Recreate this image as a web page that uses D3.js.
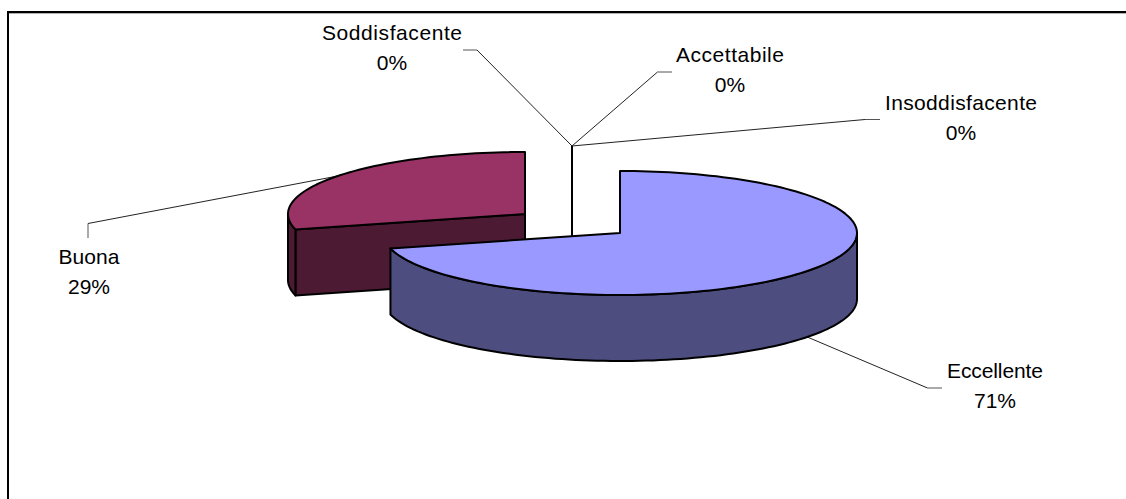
<!DOCTYPE html>
<html>
<head>
<meta charset="utf-8">
<script src="https://cdn.jsdelivr.net/npm/d3@7/dist/d3.min.js"></script>
<style>
html,body{margin:0;padding:0;background:#fff;overflow:hidden}
svg{display:block}
text{font-family:"Liberation Sans",Arial,sans-serif;font-size:21px;fill:#000;text-anchor:middle}
</style>
</head>
<body>
<svg id="chart" width="1126" height="499"></svg>
<script>
// Data
const categories = ["Eccellente", "Buona", "Soddisfacente", "Accettabile", "Insoddisfacente"];
const values = [71, 29, 0, 0, 0];

// Colours (not data)
const topColors = ["#9999FF", "#993366", "#FFFFCC", "#CCFFFF", "#660066"];
const sideColors = ["#4D4D80", "#4D1A33", "#808066", "#668080", "#330033"];

// Layout
const W = 1126, H = 499;
const rx = 237, ry = 62, depth = 66;
const centers = [[620, 233], [525, 214], [572, 208], [572, 208], [572, 208]];
const elbows = [[927.5, 388], [88, 223.5], [477, 50], [657.5, 72], [865, 119.5]];
const stubEnds = [[942, 388], [88, 238], [463, 50], [672, 72], [880, 119.5]];
const labelCentres = [[995, 378], [89, 264], [392, 40], [730, 62], [961, 110]];
const labelWidths = [96, 61, 140, 108, 152];
const lineGap = 30;

const svg = d3.select("#chart");
const total = d3.sum(values);
const arcs = d3.pie().sort(null).value(d => d)(values);
const pct = d3.format(".0%");

const pt = (i, a, dz = 0) => {
  const [cx, cy] = centers[i];
  return [cx + rx * Math.sin(a), cy - ry * Math.cos(a) + dz];
};
const rim = (i, a0, a1, dz = 0) => {
  const n = Math.max(1, Math.ceil(Math.abs(a1 - a0) / 0.03));
  return d3.range(n + 1).map(k => pt(i, a0 + (a1 - a0) * k / n, dz));
};
const line = d3.line();

// Frame (open to right and bottom, as in the picture)
svg.append("path").attr("d", line([[8.5, H], [8.5, 13.5], [W, 13.5]]))
  .attr("fill", "none").attr("stroke", "#b0b0b0").attr("stroke-width", 1);
svg.append("path").attr("d", line([[8, H], [8, 12], [W, 12]]))
  .attr("fill", "none").attr("stroke", "#000").attr("stroke-width", 2);

// Leader lines
arcs.forEach((d, i) => {
  const mid = (d.startAngle + d.endAngle) / 2;
  const onFront = Math.cos(mid) < 0;
  const anchor = d.value > 0 ? pt(i, mid, onFront ? depth : 0) : pt(i, 0);
  if (d.value === 0) anchor[0] = centers[i][0];
  svg.append("path").attr("d", line([anchor, elbows[i]]))
    .attr("fill", "none").attr("stroke", "#222").attr("stroke-width", 1);
  svg.append("path").attr("d", line([elbows[i], stubEnds[i]]))
    .attr("fill", "none").attr("stroke", "#555").attr("stroke-width", 1);
});

const edge = {stroke: "#000", "stroke-width": 2, "stroke-linejoin": "round"};
const styled = (sel) => { Object.entries(edge).forEach(([k, v]) => sel.attr(k, v)); return sel; };

// Zero-width slices: only their cut face shows, as one vertical edge
arcs.filter(d => d.value === 0).slice(0, 1).forEach(d => {
  const i = arcs.indexOf(d);
  styled(svg.append("path").attr("fill", "none")
    .attr("d", line([pt(i, d.startAngle), [centers[i][0], centers[i][1]], [centers[i][0], centers[i][1] + depth]])));
});

// Slices back to front: the later (left, back) slice first
[1, 0].forEach(i => {
  const d = arcs[i];
  const c = centers[i];
  const a0 = d.startAngle, a1 = d.endAngle;
  if (i === 1) {
    const endLeft = pt(i, a0);
    const face = [c, endLeft, pt(i, a0, depth), [c[0], c[1] + depth]];
    styled(svg.append("path").attr("fill", sideColors[i]).attr("d", line(face) + "Z"));
    const wallEnd = 1.5 * Math.PI;
    const outer = rim(i, a0, wallEnd).concat(rim(i, wallEnd, a0, depth));
    styled(svg.append("path").attr("fill", sideColors[i]).attr("d", line(outer) + "Z"));
  } else {
    const wallStart = 0.5 * Math.PI;
    const outer = rim(i, wallStart, a1).concat(rim(i, a1, wallStart, depth));
    styled(svg.append("path").attr("fill", sideColors[i]).attr("d", line(outer) + "Z"));
  }
  const top = [c].concat(rim(i, a0, a1));
  styled(svg.append("path").attr("fill", topColors[i]).attr("d", line(top) + "Z"));
});

// Labels
categories.forEach((name, i) => {
  const [x, y] = labelCentres[i];
  svg.append("text").attr("x", x).attr("y", y)
    .attr("textLength", labelWidths[i]).attr("lengthAdjust", "spacing").text(name);
  svg.append("text").attr("x", x).attr("y", y + lineGap).text(pct(values[i] / total));
});
</script>
</body>
</html>
